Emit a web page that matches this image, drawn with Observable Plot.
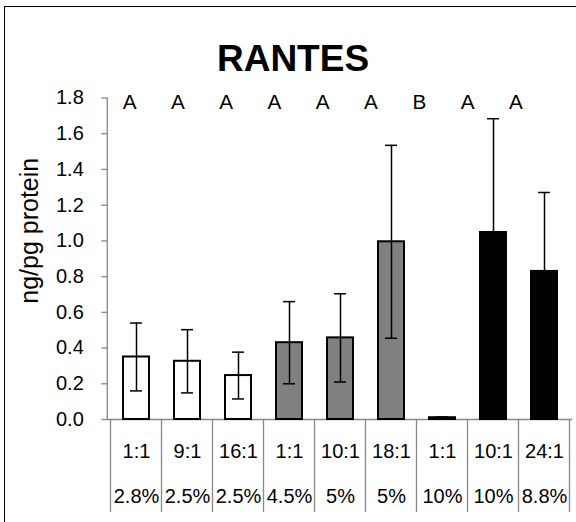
<!DOCTYPE html>
<html><head><meta charset="utf-8">
<script src="https://cdn.jsdelivr.net/npm/d3@7"></script>
<script src="https://cdn.jsdelivr.net/npm/@observablehq/plot@0.6"></script>
<style>
html,body{margin:0;padding:0;background:#fff;width:576px;height:522px;overflow:hidden;}
#wrap{position:relative;width:576px;height:522px;overflow:hidden;}
#border{position:absolute;left:4px;top:6px;width:580px;height:530px;border:1.6px solid #000;box-sizing:border-box;}
#title{position:absolute;left:0;top:40px;width:586px;text-align:center;font:700 37px/37px "Liberation Sans",Arial,sans-serif;color:#000;}
#chart{position:absolute;left:0;top:0;}
</style></head><body>
<div id="wrap"><div id="border"></div><div id="title">RANTES</div><div id="chart"></div></div>
<script>
// ---- data ----
const ratios   = ["1:1","9:1","16:1","1:1","10:1","18:1","1:1","10:1","24:1"];
const percents = ["2.8%","2.5%","2.5%","4.5%","5%","5%","10%","10%","8.8%"];
const groups   = ["low","low","low","mid","mid","mid","high","high","high"];
const means    = [0.35, 0.326, 0.246, 0.43, 0.457, 0.995, 0.01, 1.047, 0.829];
const errors   = [0.19, 0.177, 0.131, 0.23, 0.247, 0.54, 0.004, 0.637, 0.442];
const letters  = ["A","A","A","A","A","A","B","A","A"];
const yTicks   = [0, 0.2, 0.4, 0.6, 0.8, 1.0, 1.2, 1.4, 1.6, 1.8];
const yTitle   = "ng/pg protein";

const data = ratios.map((r, i) => ({
  i, ratio: r, pct: percents[i], group: groups[i],
  mean: means[i], lo: means[i] - errors[i], hi: means[i] + errors[i], letter: letters[i]
}));

// significance letters are one text line (as in the original text box)
const letterLine = letters.join("\u00A0".repeat(6));

const axisGray = "#888888";

function categoryGrid(index, scales, values, dims) {
  const x = scales.x;
  const dom = x.domain();
  const step = typeof x.step === "function" ? x.step() : (x(dom[1]) - x(dom[0]));
  const bw = typeof x.bandwidth === "function" ? x.bandwidth() : step / 2;
  const gap = (step - bw) / 2;
  const bottom = dims.height - dims.marginBottom;
  const g = d3.create("svg:g").attr("stroke", axisGray).attr("stroke-width", 1.3).attr("fill", "none");
  const bounds = dom.map(d => x(d) - gap).concat([x(dom[dom.length - 1]) + bw + gap]);
  for (const b of bounds) {
    g.append("line").attr("x1", b).attr("x2", b).attr("y1", bottom).attr("y2", dims.height - 10);
  }
  g.append("line").attr("x1", dims.marginLeft).attr("x2", dims.marginLeft)
    .attr("y1", dims.marginTop).attr("y2", bottom);
  return g.node();
}

const chart = Plot.plot({
  width: 576,
  height: 522,
  marginLeft: 107.3,
  marginRight: 3.7,
  marginTop: 97.5,
  marginBottom: 103,
  style: {fontFamily: "'Liberation Sans', Arial, sans-serif", fontSize: "20px", background: "transparent", color: "#000", overflow: "visible"},
  x: {domain: d3.range(ratios.length), paddingInner: 0.5, paddingOuter: 0.25},
  y: {domain: [0, 1.8]},
  color: {domain: ["low", "mid", "high"], range: ["#ffffff", "#808080", "#000000"]},
  marks: [
    Plot.axisY({ticks: yTicks, tickFormat: d => d.toFixed(1), tickSize: 6, tickPadding: 18, stroke: axisGray, strokeWidth: 1.3, label: null}),
    Plot.axisX({tickFormat: i => ratios[i], tickSize: 0, tickPadding: 24, label: null}),
    Plot.axisX({tickFormat: i => percents[i], tickSize: 0, tickPadding: 69, label: null}),
    categoryGrid,
    Plot.ruleY([0], {stroke: axisGray, strokeWidth: 1.3}),
    Plot.barY(data, {x: "i", y: "mean", fill: "group", stroke: "#000", strokeWidth: 2}),
    Plot.ruleX(data, {x: "i", y1: "lo", y2: "hi", stroke: "#000", strokeWidth: 1.5}),
    Plot.tickY(data, {x: "i", y: "hi", stroke: "#000", strokeWidth: 1.5, insetLeft: 7, insetRight: 7}),
    Plot.tickY(data, {x: "i", y: "lo", stroke: "#000", strokeWidth: 1.5, insetLeft: 7, insetRight: 7}),
    Plot.text([letterLine], {x: () => data[0].i, text: d => d, frameAnchor: "top", textAnchor: "start", lineAnchor: "middle", dy: 4.5, dx: -13.8, fontSize: 20.7, fill: "#000"}),
    Plot.text([yTitle], {text: d => d, frameAnchor: "left", textAnchor: "middle", rotate: -90, dx: -78, dy: -28, fontSize: 25, fill: "#000"})
  ]
});
document.getElementById("chart").appendChild(chart);
</script>
</body></html>
